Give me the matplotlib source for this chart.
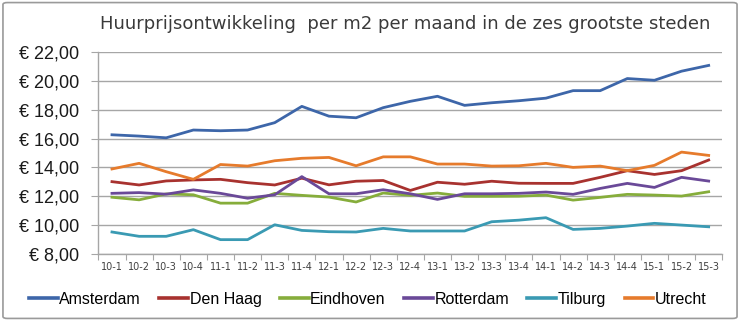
import matplotlib

matplotlib.use("Agg")
import matplotlib.pyplot as plt
from matplotlib.patches import FancyBboxPatch
from matplotlib.ticker import FuncFormatter
import numpy as np

QUARTERS = [
    "10-1", "10-2", "10-3", "10-4", "11-1", "11-2", "11-3", "11-4",
    "12-1", "12-2", "12-3", "12-4", "13-1", "13-2", "13-3", "13-4",
    "14-1", "14-2", "14-3", "14-4", "15-1", "15-2", "15-3",
]

AMSTERDAM = [16.26, 16.17, 16.05, 16.59, 16.54, 16.59, 17.10, 18.23, 17.55, 17.44, 18.14, 18.58,
             18.93, 18.30, 18.48, 18.62, 18.80, 19.32, 19.32, 20.16, 20.04, 20.67, 21.07]
DEN_HAAG = [13.01, 12.78, 13.06, 13.13, 13.17, 12.94, 12.78, 13.25, 12.79, 13.04, 13.09, 12.40,
            12.97, 12.83, 13.04, 12.90, 12.89, 12.89, 13.31, 13.77, 13.51, 13.77, 14.51]
EINDHOVEN = [11.93, 11.75, 12.16, 12.10, 11.52, 11.52, 12.20, 12.06, 11.94, 11.60, 12.22, 12.06,
             12.22, 11.99, 11.99, 12.00, 12.08, 11.73, 11.92, 12.13, 12.08, 12.01, 12.31]
ROTTERDAM = [12.20, 12.25, 12.14, 12.44, 12.20, 11.86, 12.10, 13.36, 12.17, 12.17, 12.45, 12.17,
             11.78, 12.17, 12.17, 12.20, 12.29, 12.13, 12.54, 12.89, 12.61, 13.31, 13.05]
TILBURG = [9.52, 9.22, 9.22, 9.68, 8.99, 8.99, 10.02, 9.63, 9.54, 9.52, 9.77, 9.59,
           9.59, 9.59, 10.23, 10.34, 10.51, 9.70, 9.77, 9.93, 10.12, 10.00, 9.88]
UTRECHT = [13.89, 14.28, 13.70, 13.17, 14.20, 14.09, 14.46, 14.63, 14.69, 14.11, 14.73, 14.73,
           14.23, 14.23, 14.09, 14.11, 14.28, 14.00, 14.09, 13.77, 14.14, 15.06, 14.83]

SERIES = {
    "Amsterdam": AMSTERDAM,
    "Den Haag": DEN_HAAG,
    "Eindhoven": EINDHOVEN,
    "Rotterdam": ROTTERDAM,
    "Tilburg": TILBURG,
    "Utrecht": UTRECHT,
}
COLORS = {
    "Amsterdam": "#3d66a9",
    "Den Haag": "#a8322f",
    "Eindhoven": "#86ad3b",
    "Rotterdam": "#6a4998",
    "Tilburg": "#3a9ab3",
    "Utrecht": "#e67b2c",
}

fig = plt.figure(figsize=(7.4, 3.21), dpi=100)
ax = fig.add_axes([0.133, 0.209, 0.843, 0.629])

x = np.arange(len(QUARTERS))
for name, vals in SERIES.items():
    ax.plot(x, vals, color=COLORS[name], linewidth=2.0, label=name, solid_joinstyle="round")

ax.set_xlim(-0.5, len(QUARTERS) - 0.5)
ax.set_ylim(8, 22)
ax.set_yticks(np.arange(8, 23, 2))
ax.yaxis.set_major_formatter(FuncFormatter(lambda v, _: f"€ {v:.2f}".replace(".", ",")))
ax.grid(axis="y", color="#a6a6a6", linewidth=1.0)
ax.set_axisbelow(True)

ax.set_xticks(np.arange(-0.5, len(QUARTERS), 1.0))
ax.set_xticklabels([])
ax.set_xticks(x, minor=True)
ax.set_xticklabels(QUARTERS, minor=True, fontsize=7, color="#404040")
ax.tick_params(axis="x", which="major", length=4, color="#a6a6a6", direction="out")
ax.tick_params(axis="x", which="minor", length=0, pad=6)
ax.tick_params(axis="y", length=5, color="#a6a6a6", pad=9)
for lbl in ax.get_yticklabels():
    lbl.set_family(["Liberation Sans", "DejaVu Sans"])
    lbl.set_fontsize(13)
    lbl.set_color("#1a1a1a")

for side in ("top", "right"):
    ax.spines[side].set_visible(False)
for side in ("left", "bottom"):
    ax.spines[side].set_color("#a6a6a6")
    ax.spines[side].set_linewidth(1.0)

fig.text(0.548, 0.925, "Huurprijsontwikkeling  per m2 per maand in de zes grootste steden",
         ha="center", va="center", fontsize=13, color="#3a3a3a")

leg = fig.legend(loc="center", bbox_to_anchor=(0.497, 0.068), ncol=6, frameon=False,
                 prop={"family": ["Liberation Sans", "DejaVu Sans"], "size": 11.5},
                 handlelength=1.8, handletextpad=0.1, columnspacing=1.15)
for line in leg.get_lines():
    line.set_linewidth(2.6)

border = FancyBboxPatch((0.004, 0.008), 0.992, 0.984, boxstyle="round,pad=0,rounding_size=0.006",
                        transform=fig.transFigure, fill=False, edgecolor="#9a9a9a", linewidth=1.2)
fig.patches.append(border)

fig.savefig("out.png", dpi=100)
